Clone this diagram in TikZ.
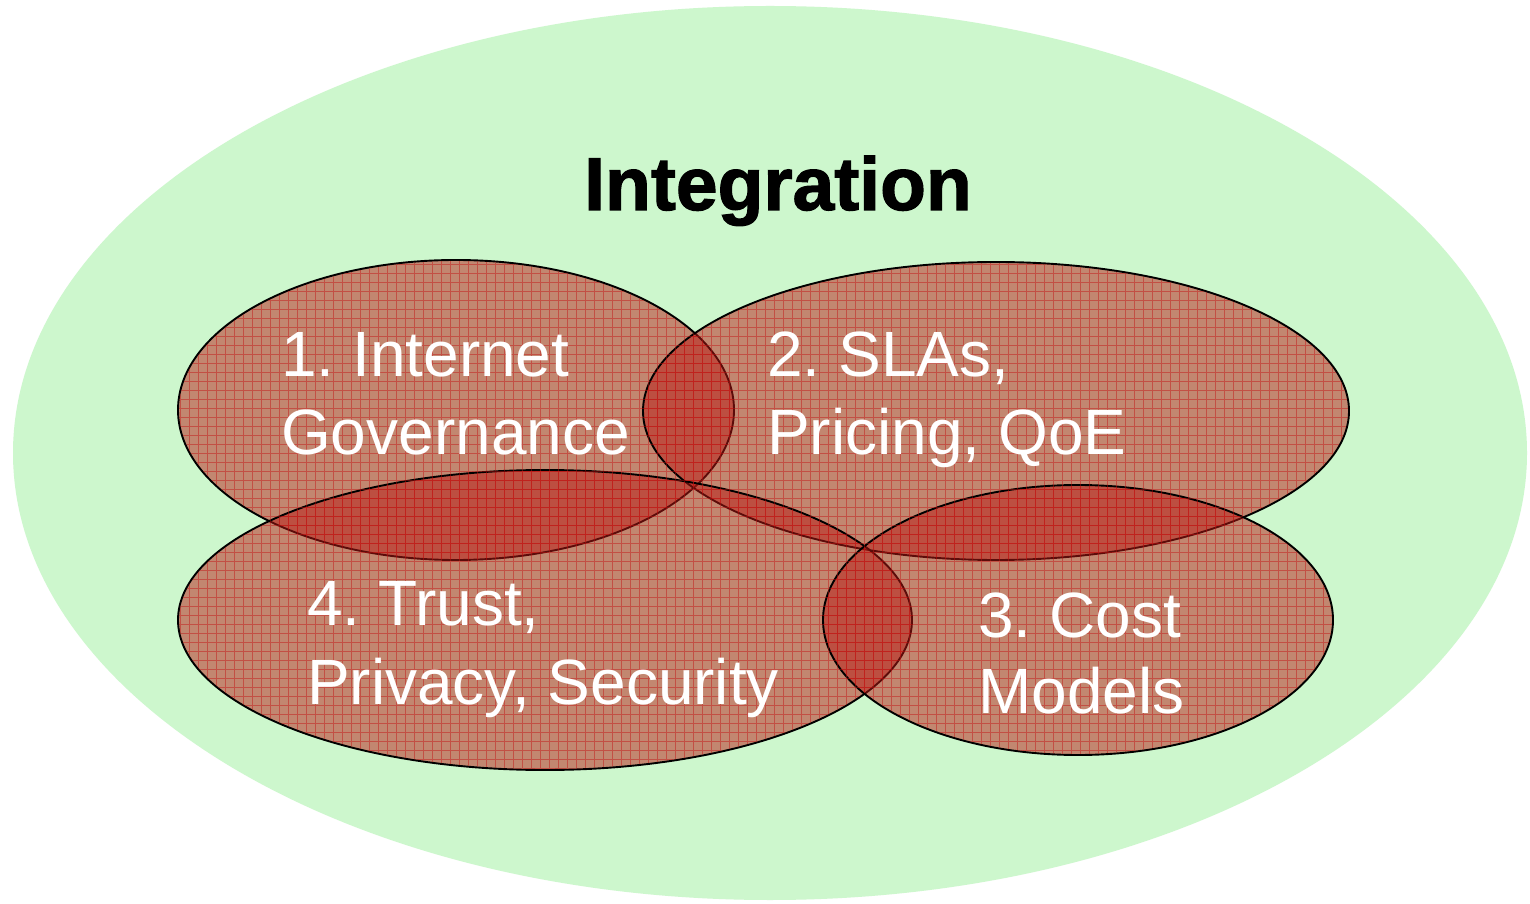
\documentclass[tikz,border=0pt]{standalone}
\usepackage{fontspec}
\setmainfont{Liberation Sans}
\newfontfamily\titlefont[FakeBold=1.6]{Liberation Sans Bold}
\frenchspacing
\begin{document}
\begin{tikzpicture}[x=1pt,y=1pt,
  redell/.style={draw=black,line width=1.9pt,fill=redfill,fill opacity=0.5},
  lbl/.style={text=white,font=\fontsize{64}{78}\selectfont,anchor=base west,inner sep=0pt},
  ttl/.style={text=black,font=\fontsize{75}{80}\selectfont\titlefont,anchor=base,inner sep=0pt}]
\definecolor{greenfill}{RGB}{205,247,205}
\definecolor{redfill}{RGB}{185,25,20}
\definecolor{gridred}{RGB}{195,15,15}
\useasboundingbox (0,0) rectangle (1530,903);
\fill[white] (0,0) rectangle (1530,903);
% big green ellipse
\fill[greenfill] (770,450) ellipse [x radius=757,y radius=447];
% red ellipses: 1, 2, 4, 3
\path[redell] (456,493) ellipse [x radius=278,y radius=150];
\path[redell] (996,492) ellipse [x radius=353,y radius=149];
\path[redell] (545,283) ellipse [x radius=367,y radius=150];
\path[redell] (1078,283) ellipse [x radius=255,y radius=135];
% grid texture inside red ellipses
\begin{scope}
\clip (456,493) ellipse [x radius=277,y radius=149];
\draw[gridred,line width=0.7pt,opacity=0.45,step=9] (170,335) grid (740,650);
\end{scope}
\begin{scope}
\clip (996,492) ellipse [x radius=352,y radius=148];
\draw[gridred,line width=0.7pt,opacity=0.45,step=9] (640,335) grid (1355,650);
\end{scope}
\begin{scope}
\clip (545,283) ellipse [x radius=366,y radius=149];
\draw[gridred,line width=0.7pt,opacity=0.45,step=9] (170,125) grid (920,440);
\end{scope}
\begin{scope}
\clip (1078,283) ellipse [x radius=254,y radius=134];
\draw[gridred,line width=0.7pt,opacity=0.45,step=9] (820,140) grid (1340,425);
\end{scope}
% title
\node[ttl] (title) at (778,693) {Integration};
% labels
\node[lbl] (l1a) at (281,526) {1. Internet};
\node[lbl] (l1b) at (281,448) {Governance};
\node[lbl] (l2a) at (767,526) {2. SLAs,};
\node[lbl] (l2b) at (767,448) {Pricing, QoE};
\node[lbl] (l4a) at (307,278) {4. Trust,};
\node[lbl] (l4b) at (307,199) {Privacy, Security};
\node[lbl] (l3a) at (978,266) {3. Cost};
\node[lbl] (l3b) at (978,190) {Models};
\end{tikzpicture}
\end{document}
